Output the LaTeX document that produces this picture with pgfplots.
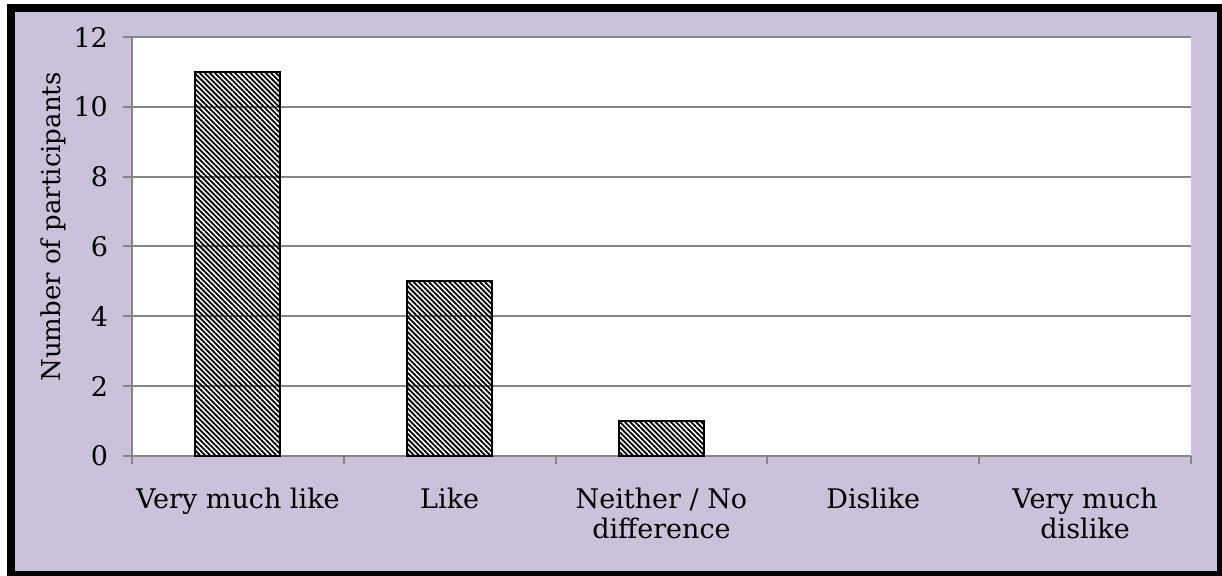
\documentclass[border=0pt]{standalone}
\usepackage{pgfplots}
\pgfplotsset{compat=1.18}
\usetikzlibrary{patterns.meta}
\usepackage{fontspec}
\setmainfont{DejaVu Serif}
\definecolor{lav}{RGB}{204,193,218}
\definecolor{gridgray}{RGB}{134,134,134}
\begin{document}
\begin{tikzpicture}[x=1pt,y=1pt]
% pixel (px,py) -> ((px-132)*0.5, (456-py)*0.5)
\useasboundingbox (-66,-60) rectangle (545,228);
\fill[black] (-62.5,-60) rectangle (545,226);
\fill[lav] (-58.5,-57.5) rectangle (542.5,222);
\begin{axis}[
  at={(0,0)}, anchor=south west,
  scale only axis, width=529.5pt, height=209.5pt,
  axis background/.style={fill=white},
  xmin=-0.5, xmax=4.5, ymin=0, ymax=12,
  ytick={0,2,...,12},
  xtick={0,1,2,3,4},
  xticklabels={Very much like, Like, {Neither / No\\difference}, Dislike, {Very much\\dislike}},
  x tick label style={align=center, font=\fontsize{13.5}{15}\selectfont, yshift=-8pt},
  y tick label style={font=\fontsize{13.5}{15}\selectfont, xshift=-4pt},
  /pgf/number format/assume math mode=true,
  axis x line=bottom, axis y line=left,
  axis line style={draw=gridgray, line width=1pt, -},
  tick align=outside,
  major tick length=4.5pt,
  major x tick style={draw=none},
  minor xtick={-0.5,0.5,1.5,2.5,3.5,4.5},
  minor tick length=4pt,
  minor x tick style={draw=gridgray, line width=1pt},
  major y tick style={draw=gridgray, line width=1pt},
  ymajorgrids,
  major grid style={draw=gridgray, line width=1pt},
  ylabel={Number of participants},
  ylabel style={font=\fontsize{13}{15}\selectfont, at={(axis description cs:-0.0746,0.5465)}, anchor=center},
  ybar, bar width=42.5pt,
  clip=false,
]
\addplot[draw=black, line width=1pt,
  pattern={Lines[angle=-45, distance=1.8pt, line width=0.9pt]}, pattern color=black]
  coordinates {(0,11) (1,5) (2,1)};
\end{axis}
\end{tikzpicture}
\end{document}
